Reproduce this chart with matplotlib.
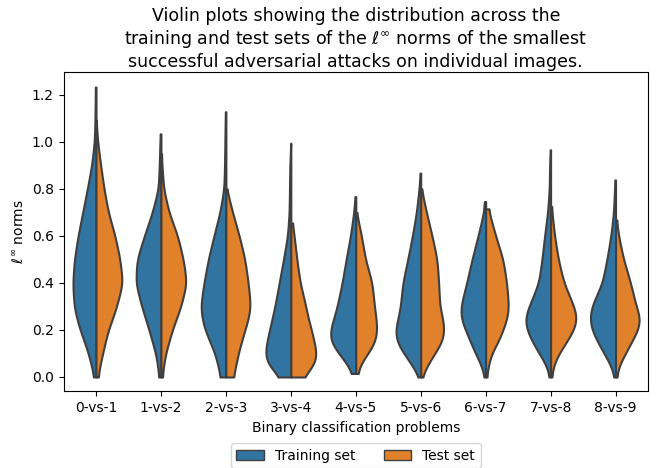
import numpy as np
import matplotlib
matplotlib.use("Agg")
import matplotlib.pyplot as plt
from matplotlib.patches import Patch

problems = ["0-vs-1", "1-vs-2", "2-vs-3", "3-vs-4", "4-vs-5",
            "5-vs-6", "6-vs-7", "7-vs-8", "8-vs-9"]

levels = [0.0, 0.05, 0.1, 0.15, 0.2, 0.25, 0.3, 0.4, 0.5, 0.6, 0.7, 0.8, 0.9, 1.0, 1.1, 1.2]

# relative density (half width) per level, training set
train_density = [
    [6, 14, 23, 35, 48, 58, 66, 70, 65, 54, 40, 26, 13, 5, 3, 2],
    [6, 10, 16, 26, 36, 47, 58, 76, 72, 50, 26, 8, 5, 3, 0, 0],
    [16, 24, 33, 48, 63, 72, 76, 66, 53, 36, 18, 6, 4, 3, 2, 0],
    [30, 70, 78, 72, 64, 56, 48, 35, 22, 10, 5, 4, 3, 0, 0, 0],
    [4, 23, 51, 77, 77, 66, 56, 41, 29, 16, 6, 0, 0, 0, 0, 0],
    [4, 26, 51, 73, 77, 68, 61, 54, 39, 25, 13, 5, 0, 0, 0, 0],
    [3, 13, 31, 46, 61, 75, 75, 57, 41, 23, 6, 0, 0, 0, 0, 0],
    [3, 12, 35, 55, 72, 78, 65, 36, 26, 18, 9, 4, 3, 0, 0, 0],
    [3, 14, 35, 54, 72, 78, 72, 40, 26, 14, 6, 3, 0, 0, 0, 0],
]
# relative density (half width) per level, test set
test_density = [
    [6, 12, 20, 28, 37, 50, 62, 80, 72, 57, 37, 24, 14, 5, 0, 0],
    [4, 8, 14, 24, 34, 47, 60, 77, 67, 50, 24, 8, 3, 0, 0, 0],
    [22, 30, 37, 47, 57, 68, 74, 67, 57, 40, 20, 2, 0, 0, 0, 0],
    [35, 72, 78, 70, 62, 52, 45, 28, 18, 10, 0, 0, 0, 0, 0, 0],
    [3, 11, 37, 59, 64, 61, 56, 49, 29, 17, 2, 0, 0, 0, 0, 0],
    [3, 20, 42, 65, 71, 66, 57, 54, 49, 34, 17, 2, 0, 0, 0, 0],
    [3, 8, 17, 38, 52, 65, 69, 63, 52, 30, 10, 0, 0, 0, 0, 0],
    [3, 8, 25, 48, 70, 80, 70, 40, 23, 12, 4, 0, 0, 0, 0, 0],
    [3, 10, 30, 48, 68, 75, 62, 45, 24, 9, 0, 0, 0, 0, 0, 0],
]

train_min = [0.0, 0.0, 0.0, 0.0, 0.015, 0.0, 0.0, 0.0, 0.0]
train_max = [1.233, 1.034, 1.128, 0.994, 0.767, 0.867, 0.746, 0.966, 0.838]
test_min = [0.0, 0.0, 0.0, 0.0, 0.015, 0.0, 0.0, 0.0, 0.0]
test_max = [1.094, 0.95, 0.80, 0.655, 0.70, 0.80, 0.715, 0.725, 0.668]

blue = "#3274a1"
orange = "#e1812c"
edge = "#3f3f3f"


def profile(dens, lo, hi, sigma=0.028, step=0.002):
    y = np.arange(lo, hi + step, step)
    y[-1] = hi
    w = np.interp(y, levels, dens)
    k = int(3 * sigma / step)
    kern = np.exp(-0.5 * (np.arange(-k, k + 1) * step / sigma) ** 2)
    kern /= kern.sum()
    w = np.convolve(np.pad(w, k, mode="edge"), kern, mode="valid")
    return y, w


def main():
    fig = plt.figure(figsize=(6.63, 4.68), dpi=100)
    ax = fig.add_axes([0.0958, 0.1635, 0.8816, 0.6816])

    scale = 0.41 / max(max(d) for d in train_density + test_density)

    for i in range(len(problems)):
        y, w = profile(train_density[i], train_min[i], train_max[i])
        ax.fill_betweenx(y, i - w * scale, i, facecolor=blue, edgecolor=edge,
                         linewidth=1.5, zorder=2)
        y, w = profile(test_density[i], test_min[i], test_max[i])
        ax.fill_betweenx(y, i, i + w * scale, facecolor=orange, edgecolor=edge,
                         linewidth=1.5, zorder=2)

    top = max(train_max + test_max)
    ax.set_xlim(-0.5, len(problems) - 0.5)
    ax.set_ylim(-0.05 * top, 1.05 * top)
    ax.set_xticks(range(len(problems)))
    ax.set_xticklabels(problems)
    ax.set_yticks(np.arange(0, 1.21, 0.2))
    ax.set_xlabel("Binary classification problems")
    ax.set_ylabel(r"$\ell^\infty$ norms")
    ax.set_title("Violin plots showing the distribution across the\n"
                 r"training and test sets of the $\ell^\infty$ norms of the smallest" "\n"
                 "successful adversarial attacks on individual images.",
                 fontsize=12.5, pad=4)

    handles = [Patch(facecolor=blue, edgecolor=edge, label="Training set"),
               Patch(facecolor=orange, edgecolor=edge, label="Test set")]
    ax.legend(handles=handles, loc="upper center", bbox_to_anchor=(0.5, -0.14),
              ncol=2, frameon=True)

    fig.savefig("out.png", dpi=100)


if __name__ == "__main__":
    main()
